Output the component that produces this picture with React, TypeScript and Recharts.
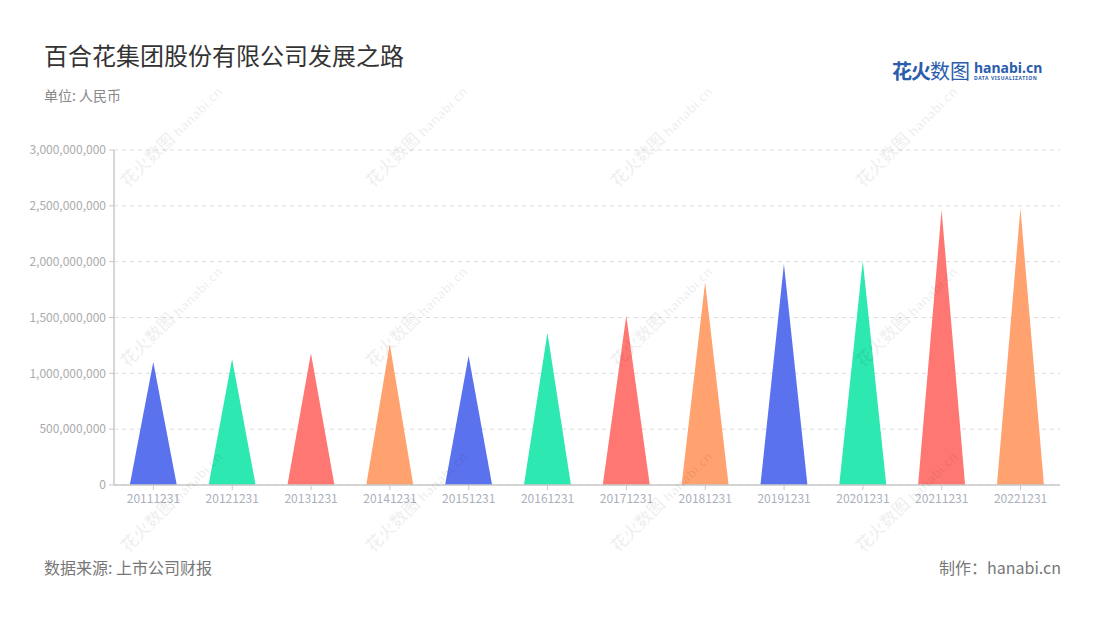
import React from "react";
import { BarChart, Bar, XAxis, YAxis, CartesianGrid, Cell } from "recharts";

const categories = [
  "20111231", "20121231", "20131231", "20141231", "20151231", "20161231",
  "20171231", "20181231", "20191231", "20201231", "20211231", "20221231",
];
const revenue = [
  1101000000, 1128000000, 1179000000, 1263000000, 1158000000, 1364000000,
  1516000000, 1815000000, 1979000000, 2006000000, 2463000000, 2478000000,
];
const yTicks = [0, 500000000, 1000000000, 1500000000, 2000000000, 2500000000, 3000000000];
const palette = ["#5a72ee", "#2de8b1", "#ff7772", "#ffa26f"];

const data = categories.map((c, i) => ({ name: c, value: revenue[i] }));

const Triangle = (props: any) => {
  const { x, y, width, height, fill } = props;
  if (height == null || height <= 0) return null;
  const d = `M${x},${y + height} L${x + width / 2},${y} L${x + width},${y + height} Z`;
  return <path d={d} fill={fill} />;
};

const fmt = (v: number) => v.toLocaleString("en-US");

const wmPositions: [number, number][] = [];
for (const cx of [165, 410, 655, 900]) {
  for (const cy of [140, 320, 505]) wmPositions.push([cx, cy]);
}

export default function App() {
  const font = '"Noto Sans CJK SC", "Noto Sans", sans-serif';
  return (
    <div style={{ position: "absolute", left: 0, top: 0, width: 1100, height: 620, background: "#fff", fontFamily: font, overflow: "hidden" }}>
      <div style={{ position: "absolute", left: 44, top: 37, fontSize: 24, color: "#333", lineHeight: "36px" }}>
        百合花集团股份有限公司发展之路
      </div>
      <div style={{ position: "absolute", left: 44, top: 85, fontSize: 14, color: "#888", lineHeight: "20px" }}>
        单位: 人民币
      </div>
      <div style={{ position: "absolute", left: 892, top: 58, display: "flex", alignItems: "center" }}>
        <span style={{ fontSize: 20, fontWeight: 700, color: "#2a5dab", letterSpacing: -1, lineHeight: "26px" }}>花火</span>
        <span style={{ fontSize: 20, fontWeight: 400, color: "#2a5dab", lineHeight: "26px" }}>数图</span>
        <div style={{ marginLeft: 4, display: "flex", flexDirection: "column" }}>
          <span style={{ fontFamily: '"Noto Sans", sans-serif', fontSize: 14, fontWeight: 700, color: "#2a5dab", lineHeight: "14px" }}>hanabi.cn</span>
          <span style={{ fontFamily: '"Noto Sans", sans-serif', fontSize: 5, fontWeight: 700, color: "#2a5dab", lineHeight: "7px", letterSpacing: 0.6 }}>DATA VISUALIZATION</span>
        </div>
      </div>
      <div style={{ position: "absolute", left: 0, top: 0 }}>
        <BarChart width={1100} height={620} data={data} margin={{ top: 150, right: 40, bottom: 105, left: 0 }} barCategoryGap="20%">
          <CartesianGrid vertical={false} stroke="#dddddd" strokeDasharray="4 4" />
          <XAxis
            dataKey="name"
            height={30}
            tickSize={5}
            tickMargin={4}
            axisLine={{ stroke: "#c8c8c8", strokeWidth: 1.5 }}
            tickLine={{ stroke: "#c8c8c8" }}
            tick={{ fill: "#aab0bc", fontSize: 12, fontFamily: font }}
            interval={0}
          />
          <YAxis
            width={114}
            domain={[0, 3000000000]}
            ticks={yTicks}
            tickFormatter={fmt}
            tickSize={5}
            tickMargin={3}
            axisLine={{ stroke: "#c8c8c8", strokeWidth: 1.5 }}
            tickLine={{ stroke: "#c8c8c8" }}
            tick={{ fill: "#aaaaaa", fontSize: 12, fontFamily: font }}
          />
          <Bar dataKey="value" shape={<Triangle />} isAnimationActive={false}>
            {data.map((d, i) => (
              <Cell key={d.name} fill={palette[i % palette.length]} />
            ))}
          </Bar>
        </BarChart>
      </div>
      {wmPositions.map(([x, y], i) => (
        <div
          key={i}
          style={{
            position: "absolute",
            left: x - 60,
            top: y - 12,
            width: 120,
            transform: "rotate(-45deg)",
            color: "rgba(0,0,0,0.06)",
            fontSize: 17,
            fontWeight: 700,
            whiteSpace: "nowrap",
            pointerEvents: "none",
          }}
        >
          花火数图 <span style={{ fontFamily: '"Noto Sans", sans-serif', fontSize: 13 }}>hanabi.cn</span>
        </div>
      ))}
      <div style={{ position: "absolute", left: 44, top: 555, fontSize: 16, color: "#777", lineHeight: "24px" }}>
        数据来源: 上市公司财报
      </div>
      <div style={{ position: "absolute", right: 39, top: 555, fontSize: 16, color: "#777", lineHeight: "24px" }}>
        制作：hanabi.cn
      </div>
    </div>
  );
}
